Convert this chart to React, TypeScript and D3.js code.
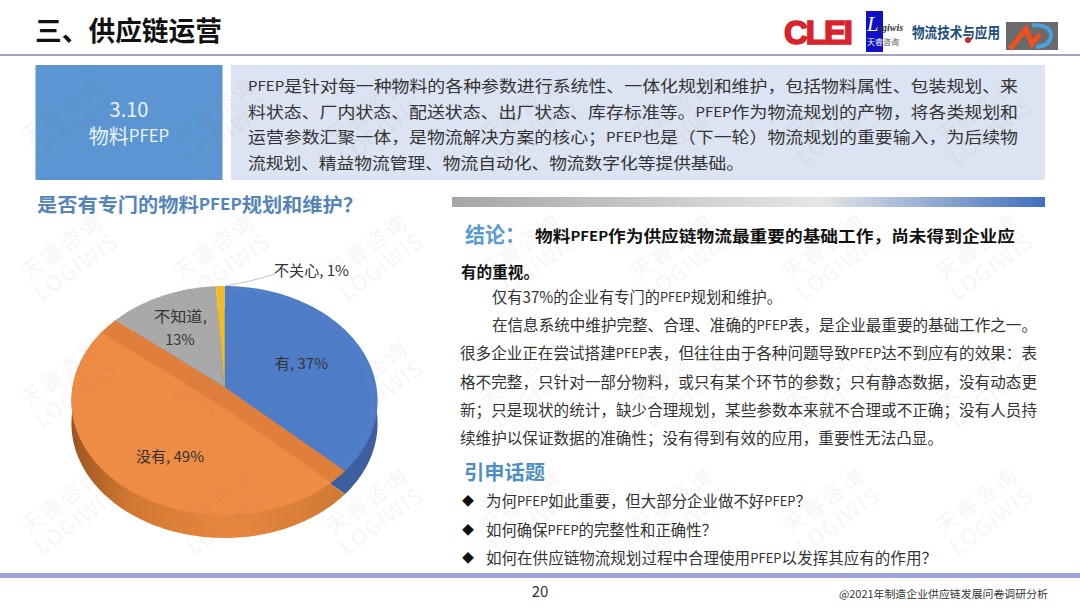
import React from "react";
import * as d3 from "d3";

const categories = ["有", "没有", "不知道", "不关心"];
const shares = [37, 49, 13, 1];
const topColors = ["#4f7cc6", "#ee8b44", "#a9a9a9", "#f3bb1f"];
const wallColors = ["#3d5f9e", "url(#wallOrange)", "#808080", "#b58a10"];

const introLines = [
  "PFEP是针对每一种物料的各种参数进行系统性、一体化规划和维护，包括物料属性、包装规划、来",
  "料状态、厂内状态、配送状态、出厂状态、库存标准等。PFEP作为物流规划的产物，将各类规划和",
  "运营参数汇聚一体，是物流解决方案的核心；PFEP也是（下一轮）物流规划的重要输入，为后续物",
  "流规划、精益物流管理、物流自动化、物流数字化等提供基础。",
];
const bodyLines = [
  "仅有37%的企业有专门的PFEP规划和维护。",
  "在信息系统中维护完整、合理、准确的PFEP表，是企业最重要的基础工作之一。",
  "很多企业正在尝试搭建PFEP表，但往往由于各种问题导致PFEP达不到应有的效果：表",
  "格不完整，只针对一部分物料，或只有某个环节的参数；只有静态数据，没有动态更",
  "新；只是现状的统计，缺少合理规划，某些参数本来就不合理或不正确；没有人员持",
  "续维护以保证数据的准确性；没有得到有效的应用，重要性无法凸显。",
];
const topicLines = [
  "为何PFEP如此重要，但大部分企业做不好PFEP？",
  "如何确保PFEP的完整性和正确性？",
  "如何在供应链物流规划过程中合理使用PFEP以发挥其应有的作用？",
];
const wmColumns = [70, 222, 375, 528, 680, 832, 985];
const wmRows = [122, 258, 385, 512];

const FONT = "'Noto Sans CJK SC', 'Noto Sans', sans-serif";

// perspective projection of the pie's unit circle on to the slide
const cx = 224.5, cy = 387, rx = 152, ky = 112.9, persp = -0.118;
const project = (a: number, r = 1): [number, number] => {
  const s = Math.sin(a) * r, c = -Math.cos(a) * r;
  const w = 1 + persp * c;
  return [cx + (rx * s) / w, cy + (ky * c) / w];
};
const lineGen = d3.line();
const slicePath = (start: number, end: number, r = 1) => {
  const steps = Math.max(2, Math.ceil((end - start) / 0.02));
  const arc = d3.range(steps + 1).map((i) => project(start + ((end - start) * i) / steps, r));
  return lineGen([[cx, cy], ...arc]) + "Z";
};
const pieGen = d3.pie<number>().sort(null).startAngle(0).endAngle(2 * Math.PI);
const slices = pieGen(shares);
const DEPTH = 23;

// wedge with the apex pushed down by `d`, reaching well past the rim
const wedgePath = (start: number, end: number, d: number) => {
  const stretch = (a: number): [number, number] => {
    const [x, y] = project(a);
    return [cx + (x - cx) * 3, cy + d + (y - cy) * 3];
  };
  return lineGen([[cx, cy + d], stretch(start), stretch((start + end) / 2), stretch(end)]) + "Z";
};

// The reference sets Latin runs in a narrow face, so they are drawn a little smaller
const runs = (s: string) =>
  s.split(/(PFEP)/).filter(Boolean).map((r, i) =>
    r === "PFEP" ? <tspan key={i} fontSize="0.84em">{r}</tspan> : <tspan key={i}>{r}</tspan>
  );

type TProps = { x: number; y: number; w?: number; size: number; fill?: string; bold?: boolean; anchor?: string; children: any };
const T = ({ x, y, w, size, fill = "#333", bold, anchor, children }: TProps) => (
  <text x={x} y={y - 1} fontSize={size} fill={fill} fontWeight={bold ? 700 : 400} textAnchor={anchor as any} dominantBaseline="central"
    textLength={w} lengthAdjust={w ? "spacingAndGlyphs" : undefined}>{typeof children === "string" ? runs(children) : children}</text>
);

export default function App() {
  const [sBlue, sOrange] = slices;
  return (
    <svg width={1080} height={608} viewBox="0 0 1080 608" fontFamily={FONT}
      style={{ position: "fixed", left: 0, top: 0, background: "#fff" }}>
      <defs>
        <linearGradient id="bar" x1="0" x2="1" y1="0" y2="0">
          <stop offset="0" stopColor="#a6a6a6" />
          <stop offset="0.62" stopColor="#e6e6e6" />
          <stop offset="1" stopColor="#3f6fbf" />
        </linearGradient>
        <linearGradient id="wallOrange" x1="0" x2="1" y1="0" y2="0">
          <stop offset="0" stopColor="#9c5520" />
          <stop offset="0.2" stopColor="#cf7730" />
          <stop offset="0.55" stopColor="#e8873f" />
          <stop offset="1" stopColor="#cf7a35" />
        </linearGradient>
        <clipPath id="orangeClip"><path d={slicePath(sOrange.startAngle, sOrange.endAngle)} /></clipPath>
      </defs>

      <T x={35} y={30} w={187} size={27} fill="#111" bold>三、供应链运营</T>
      <line x1={0} x2={1080} y1={55} y2={55} stroke="#4b4b78" strokeWidth={1.2} />

      {/* logos */}
      <text x={784} y={44} fontSize={33} fontWeight={700} fontFamily="'Liberation Sans', sans-serif" fill="#d8232a" stroke="#d8232a" strokeWidth={1.6} textLength={69} lengthAdjust="spacing">CLEI</text>
      <rect x={866} y={11} width={17} height={41} fill="#1010c8" />
      <text x={867} y={31} fontSize={21} fontStyle="italic" fontFamily="'Liberation Serif', serif" fill="#fff">L</text>
      <text x={877} y={31} fontSize={10} fontStyle="italic" fontWeight={700} fontFamily="'Liberation Serif', serif" fill="#333">ogiwis</text>
      <text x={867} y={45} fontSize={8} fill="#fff">天睿</text>
      <text x={883} y={45} fontSize={8} fill="#555">咨询</text>
      <text x={912} y={38} fontSize={15} fontWeight={700} fill="#1d4e7e" textLength={88} lengthAdjust="spacingAndGlyphs">物流技术与应用</text>
      <circle cx={968} cy={40} r={3} fill="#c8282d" />
      <rect x={1006} y={22} width={52} height={28} fill="#6a6a6a" />
      <path d="M1010,49 L1026,29 L1032,44 L1040,34" fill="none" stroke="#f0501e" strokeWidth={5} />
      <path d="M1032,25 Q1052,25 1051,36 Q1050,46 1036,47" fill="none" stroke="#4aa0dc" strokeWidth={4} />

      {/* header boxes */}
      <rect x={35.5} y={65} width={187} height={115} fill="#5b96d2" />
      <T x={129} y={109} size={20} fill="#eaf2fa" anchor="middle">3.10</T>
      <T x={129} y={136} size={20} fill="#eaf2fa" anchor="middle">物料PFEP</T>
      <rect x={231} y={65} width={814} height={115} fill="#dce3f2" />
      {introLines.map((l, i) => (
        <T key={i} x={248} y={86 + i * 25.7} w={[770, 770, 770, 496][i]} size={16}>{l}</T>
      ))}

      <T x={37} y={204} w={326} size={19} fill="#5585b8" bold>是否有专门的物料PFEP规划和维护？</T>
      <rect x={452} y={197} width={593} height={10} fill="url(#bar)" />

      {/* pie: side walls, then top faces */}
      {slices.map((s, i) => (
        <path key={i} d={slicePath(s.startAngle, s.endAngle)} transform={`translate(0,${DEPTH})`} fill={wallColors[i]} />
      ))}
      {slices.map((s, i) => (
        <path key={i} d={slicePath(s.startAngle, s.endAngle)} fill={i === 1 ? "#e07f3c" : topColors[i]} />
      ))}
      <g clipPath="url(#orangeClip)">
        <path d={wedgePath(sOrange.startAngle, sOrange.endAngle, DEPTH - 2)} fill={topColors[1]} />
      </g>
      <path d={slicePath(sBlue.startAngle, sBlue.endAngle, 0.97)} fill="none" stroke="#fff" strokeOpacity={0.05} />

      <polyline points="225,286 250,281 275,274" fill="none" stroke="#b5b5b5" strokeWidth={0.8} />
      <T x={274} y={270} w={75} size={14.5}>{`${categories[3]}, ${shares[3]}%`}</T>
      <T x={154} y={316} w={53} size={14.5}>{`${categories[2]},`}</T>
      <T x={180} y={339} size={14.5} anchor="middle">{`${shares[2]}%`}</T>
      <T x={275} y={363} w={53} size={14.5}>{`${categories[0]}, ${shares[0]}%`}</T>
      <T x={136} y={456} w={68} size={14.5}>{`${categories[1]}, ${shares[1]}%`}</T>

      {/* conclusion */}
      <T x={465} y={234} w={60} size={21} fill="#5a9bd0" bold>结论：</T>
      <T x={535} y={236} w={480} size={15.5} fill="#111" bold>物料PFEP作为供应链物流最重要的基础工作，尚未得到企业应</T>
      <T x={461} y={272} w={78} size={15.5} fill="#111" bold>有的重视。</T>

      {bodyLines.map((l, i) => (
        <T key={i} x={i < 2 ? 492 : 460} y={297 + i * 28.2} w={[290, 545, 577, 577, 577, 483][i]} size={15.5}>{l}</T>
      ))}

      <T x={464} y={472} w={81} size={20} fill="#4f8fc4" bold>引申话题</T>
      {topicLines.map((l, i) => (
        <g key={i}>
          <T x={468} y={501 + i * 28.5} size={12} fill="#111" anchor="middle">◆</T>
          <T x={486} y={501 + i * 28.5} w={[325, 231, 451][i]} size={15.5}>{l}</T>
        </g>
      ))}

      <rect x={0} y={573} width={1080} height={5} fill="#9ea3dc" />
      <T x={540} y={591} size={15} anchor="middle">20</T>
      <T x={839} y={594} w={209} size={10.5}>@2021年制造企业供应链发展问卷调研分析</T>

      {/* watermark */}
      <g fill="#707070" fillOpacity={0.065} fontWeight={500} textAnchor="middle">
        {wmRows.flatMap((y) =>
          wmColumns.map((x) => (
            <g key={`${x}-${y}`} transform={`translate(${x},${y}) rotate(-36)`}>
              <text y={-6} fontSize={22} letterSpacing={2}>天睿咨询</text>
              <text y={19} fontSize={22} letterSpacing={1}>LOGIWIS</text>
            </g>
          ))
        )}
      </g>
    </svg>
  );
}
